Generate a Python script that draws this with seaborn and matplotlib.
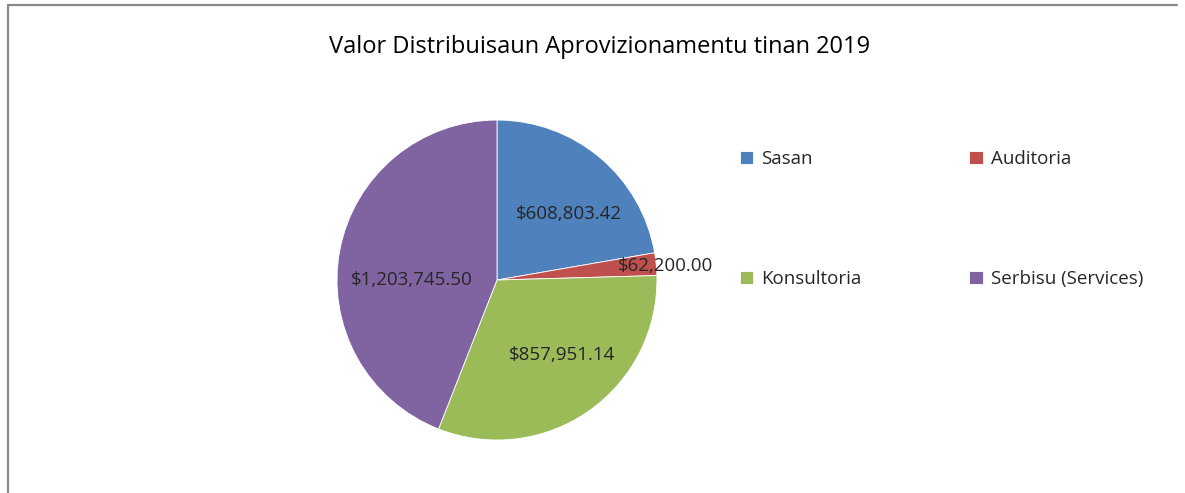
import matplotlib
matplotlib.use("Agg")
import matplotlib.pyplot as plt
from matplotlib.lines import Line2D
import numpy as np
import seaborn as sns

# chart data
categories = ["Sasan", "Auditoria", "Konsultoria", "Serbisu (Services)"]
values = [608803.42, 62200.00, 857951.14, 1203745.50]
colors = ["#4F81BD", "#C0504D", "#9BBB59", "#8064A2"]
title = "Valor Distribuisaun Aprovizionamentu tinan 2019"

# label placement like Excel "best fit": fraction of radius, angle shift (deg)
label_dist = [0.61, 1.06, 0.62, 0.53]
label_shift = [-7, -1, 6, 10.7]

sns.set_theme(style="white")
plt.rcParams["font.family"] = ["Open Sans", "DejaVu Sans"]

fig = plt.figure(figsize=(11.85, 4.93), dpi=100)
ax = fig.add_axes([0.2844, 0.1075, 0.27, 0.649])

wedges, _ = ax.pie(values, colors=colors, startangle=90, counterclock=False,
                   radius=1, wedgeprops=dict(edgecolor="white", linewidth=0.6))
ax.set_xlim(-1, 1)
ax.set_ylim(-1, 1)
ax.set_aspect("equal")
ax.axis("off")

for w, v, d, s in zip(wedges, values, label_dist, label_shift):
    ang = np.deg2rad((w.theta1 + w.theta2) / 2 + s)
    ax.text(d * np.cos(ang), d * np.sin(ang), f"${v:,.2f}",
            ha="center", va="center", fontsize=13.5, color="#262626",
            clip_on=False)

fig.text(0.506, 0.905, title, ha="center", va="center", fontsize=17, color="black")

# legend filled row by row (Excel style)
order = [0, 2, 1, 3]
leg = fig.legend([wedges[i] for i in order], [categories[i] for i in order],
                 ncol=2, loc="upper left",
                 bbox_to_anchor=(0.618, 0.711), frameon=False, fontsize=13.5,
                 handlelength=0.7, handleheight=0.7, handletextpad=0.45,
                 columnspacing=5.75, labelspacing=5.43, borderaxespad=0)
for t in leg.get_texts():
    t.set_color("#262626")

# outer frame lines (left and top only)
fig.add_artist(Line2D([8 / 1185, 8 / 1185], [0, 1 - 5 / 493], color="#888888", lw=1.6,
                      transform=fig.transFigure))
fig.add_artist(Line2D([8 / 1185, 1177 / 1185], [1 - 5 / 493, 1 - 5 / 493], color="#888888",
                      lw=1.6, transform=fig.transFigure))

fig.savefig("out.png", dpi=100, facecolor="white")
